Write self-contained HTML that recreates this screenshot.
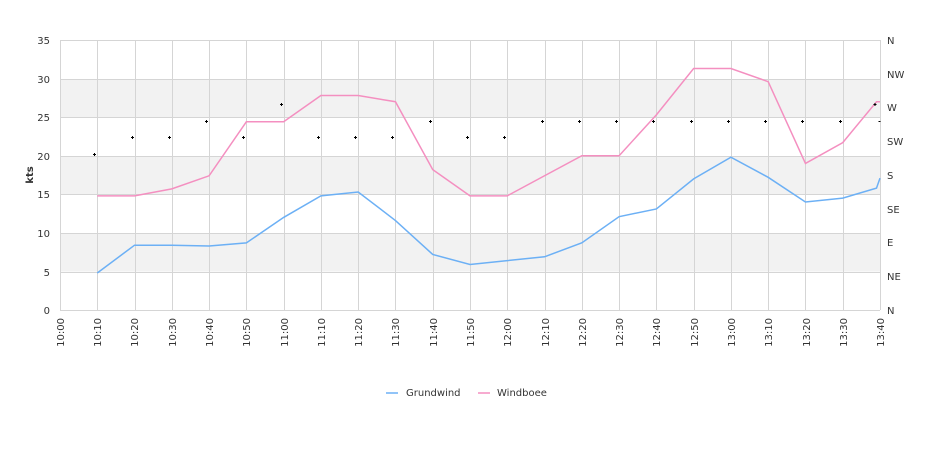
<!DOCTYPE html>
<html><head><meta charset="utf-8"><style>
body{margin:0;background:#fff;width:940px;height:450px;overflow:hidden}
svg{font-family:"DejaVu Sans","Liberation Sans",sans-serif;font-size:10px;fill:#333}
</style></head><body>
<svg id="s" width="940" height="450" xmlns="http://www.w3.org/2000/svg">
<rect x="60" y="79" width="820" height="38.6" fill="#f2f2f2"/>
<rect x="60" y="156" width="820" height="38.6" fill="#f2f2f2"/>
<rect x="60" y="233" width="820" height="38.6" fill="#f2f2f2"/>
<g id="grid" stroke="#d5d5d5" stroke-width="1"></g>
<g font-size="10" text-anchor="end">
<text x="50" y="44">35</text><text x="50" y="83">30</text><text x="50" y="121">25</text><text x="50" y="160">20</text><text x="50" y="198">15</text><text x="50" y="237">10</text><text x="50" y="276">5</text><text x="50" y="314">0</text>
</g>
<text transform="translate(33,175) rotate(-90)" text-anchor="middle" font-size="10" font-weight="bold">kts</text>
<g font-size="10" text-anchor="start">
<text x="887" y="44">N</text><text x="887" y="78">NW</text><text x="887" y="111">W</text><text x="887" y="145">SW</text><text x="887" y="179">S</text><text x="887" y="213">SE</text><text x="887" y="246">E</text><text x="887" y="280">NE</text><text x="887" y="314">N</text>
</g>
<g font-size="10" text-anchor="end">
<text transform="translate(64,318) rotate(-90)">10:00</text>
<text transform="translate(101,318) rotate(-90)">10:10</text>
<text transform="translate(138,318) rotate(-90)">10:20</text>
<text transform="translate(176,318) rotate(-90)">10:30</text>
<text transform="translate(213,318) rotate(-90)">10:40</text>
<text transform="translate(250,318) rotate(-90)">10:50</text>
<text transform="translate(288,318) rotate(-90)">11:00</text>
<text transform="translate(325,318) rotate(-90)">11:10</text>
<text transform="translate(362,318) rotate(-90)">11:20</text>
<text transform="translate(399,318) rotate(-90)">11:30</text>
<text transform="translate(437,318) rotate(-90)">11:40</text>
<text transform="translate(474,318) rotate(-90)">11:50</text>
<text transform="translate(511,318) rotate(-90)">12:00</text>
<text transform="translate(549,318) rotate(-90)">12:10</text>
<text transform="translate(586,318) rotate(-90)">12:20</text>
<text transform="translate(623,318) rotate(-90)">12:30</text>
<text transform="translate(660,318) rotate(-90)">12:40</text>
<text transform="translate(698,318) rotate(-90)">12:50</text>
<text transform="translate(735,318) rotate(-90)">13:00</text>
<text transform="translate(772,318) rotate(-90)">13:10</text>
<text transform="translate(810,318) rotate(-90)">13:20</text>
<text transform="translate(847,318) rotate(-90)">13:30</text>
<text transform="translate(884,318) rotate(-90)">13:40</text>
</g>
<polyline id="blue" fill="none" stroke="#6cb0f5" stroke-width="1.5"/>
<polyline id="pink" fill="none" stroke="#f48fc0" stroke-width="1.5"/>
<g id="mk" stroke="#000" stroke-width="1"></g>
<line x1="386" y1="393" x2="398" y2="393" stroke="#6cb0f5" stroke-width="1.5"/>
<text x="406" y="396" font-size="10">Grundwind</text>
<line x1="478" y1="393" x2="490" y2="393" stroke="#f48fc0" stroke-width="1.5"/>
<text x="497" y="396" font-size="10">Windboee</text>
</svg>
<script>
var X=i=>60+i*37.273, Y=v=>310-v*7.714;
var g=document.getElementById('grid'),h='';
[40,79,117,156,194,233,272,310].forEach(y=>h+=`<line x1="60" x2="880" y1="${y+.5}" y2="${y+.5}"/>`);
for(var i=0;i<=22;i++){var x=Math.round(X(i))+.5;h+=`<line x1="${x}" x2="${x}" y1="40" y2="310"/>`;}
g.innerHTML=h;
var b=[4.8,8.4,8.4,8.3,8.7,12,14.8,15.3,11.6,7.2,5.9,6.4,6.9,8.7,12.1,13.1,17,19.8,17.2,14,14.5];
var p=[14.8,14.8,15.7,17.4,24.4,24.4,27.8,27.8,27,18.2,14.8,14.8,17.4,20,20,25.3,31.3,31.3,29.6,19,21.7];
var bs=b.map((v,i)=>X(i+1)+','+Y(v)).join(' ')+' 876.5,'+Y(15.8)+' 880,'+Y(17.1);
var ps=p.map((v,i)=>X(i+1)+','+Y(v)).join(' ')+' 876.5,'+Y(27)+' 880,'+Y(27);
document.getElementById('blue').setAttribute('points',bs);
document.getElementById('pink').setAttribute('points',ps);
var m=[154,137,137,121,137,104,137,137,137,121,137,137,121,121,121,121,121,121,121,121,121];
var s='';
m.forEach((y,i)=>{var x=Math.round(X(i+1)-3)+.5;y+=.5;s+=`<path d="M${x-1.5} ${y}h3M${x} ${y-1.5}v3"/>`;});
s+=`<path d="M873.5 104.5h3M875 103v3"/><path d="M878.5 121.5h2"/>`;
document.getElementById('mk').innerHTML=s;
</script>
</body></html>
